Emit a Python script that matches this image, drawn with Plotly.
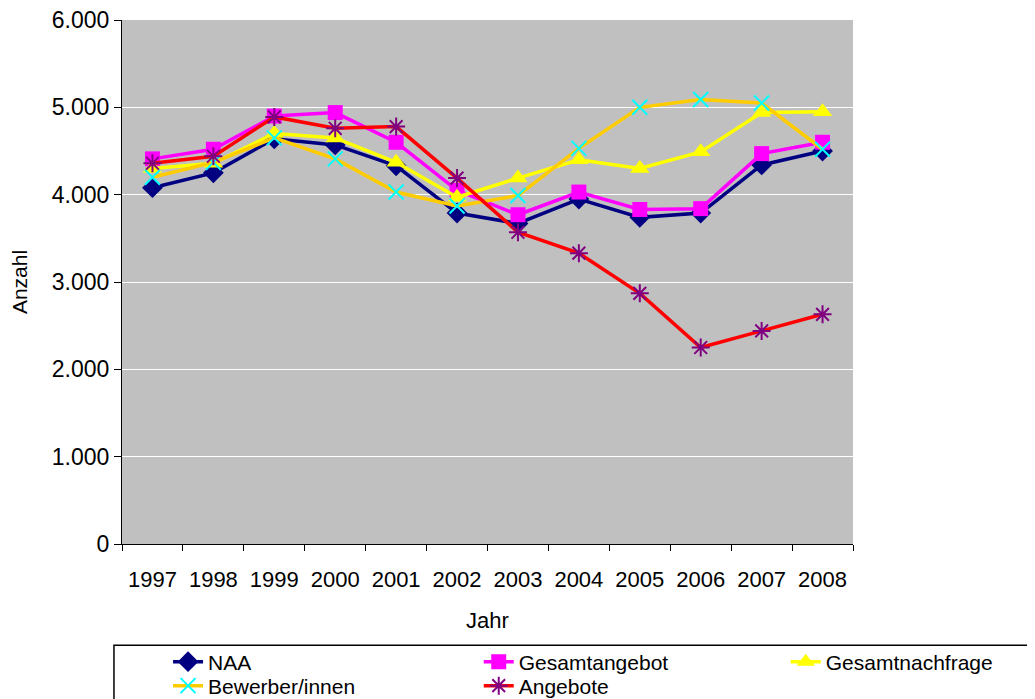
import plotly.graph_objects as go

# Data
years = ["1997", "1998", "1999", "2000", "2001", "2002", "2003", "2004", "2005", "2006", "2007", "2008"]
naa = [4080, 4250, 4640, 4570, 4330, 3790, 3670, 3950, 3740, 3790, 4340, 4500]
gesamtangebot = [4410, 4520, 4900, 4940, 4600, 4050, 3770, 4030, 3830, 3840, 4470, 4600]
gesamtnachfrage = [4300, 4360, 4700, 4650, 4370, 3970, 4190, 4400, 4300, 4490, 4940, 4950]
bewerber = [4200, 4370, 4650, 4410, 4030, 3870, 3990, 4530, 5000, 5090, 5050, 4520]
angebote = [4360, 4440, 4890, 4760, 4780, 4190, 3570, 3330, 2870, 2250, 2440, 2630]

FONT = "Liberation Sans, Arial, sans-serif"

fig = go.Figure()

series = [
    ("NAA", naa, "#000080", dict(symbol="diamond", size=16, color="#000080"), "legend"),
    ("Gesamtangebot", gesamtangebot, "#FF00FF", dict(symbol="square", size=15, color="#FF00FF"), "legend2"),
    ("Gesamtnachfrage", gesamtnachfrage, "#FFFF00", dict(symbol="triangle-up", size=17, color="#FFFF00"), "legend3"),
    ("Bewerber/innen", bewerber, "#FFCC00",
     dict(symbol="x-thin-open", size=15, color="#00FFFF", line=dict(color="#00FFFF", width=2)), "legend4"),
    ("Angebote", angebote, "#FF0000",
     dict(symbol="asterisk-open", size=15, color="#800080", line=dict(color="#800080", width=2)), "legend5"),
]

for name, vals, lc, mk, lg in series:
    fig.add_trace(go.Scatter(
        x=years, y=vals, name=name, mode="lines+markers",
        line=dict(color=lc, width=3.5), marker=mk, legend=lg, showlegend=True,
    ))

# legend positions (one legend per entry, Excel-like grid)
def leg(x, y):
    return dict(x=x, y=y, xanchor="left", yanchor="middle", bgcolor="rgba(0,0,0,0)",
                borderwidth=0, font=dict(family=FONT, size=21, color="black"))

fig.update_layout(
    width=1027, height=691,
    margin=dict(l=114, r=182, t=12, b=155, autoexpand=False),
    paper_bgcolor="white",
    plot_bgcolor="#C0C0C0",
    separators=",.",
    showlegend=True,
    font=dict(family=FONT, size=22, color="black"),
    legend=leg(0.063, -0.2252),
    legend2=leg(0.488, -0.2252),
    legend3=leg(0.908, -0.2252),
    legend4=leg(0.063, -0.2710),
    legend5=leg(0.488, -0.2710),
    xaxis=dict(
        type="category", range=[-0.5, 11.5], tickson="boundaries", ticks="outside", ticklen=6,
        tickcolor="black", showline=True, linecolor="black", linewidth=1,
        showgrid=False, ticklabelstandoff=16,
        title=dict(text="Jahr", standoff=21, font=dict(family=FONT, size=22)),
        tickfont=dict(family=FONT, size=22),
    ),
    yaxis=dict(
        range=[0, 6000], dtick=1000, tickformat=",d", ticks="outside", ticklen=7,
        tickcolor="black", showline=True, linecolor="black", linewidth=1,
        showgrid=True, gridcolor="white", gridwidth=1, zeroline=False,
        ticklabeloverflow="allow",
        title=dict(text="Anzahl", standoff=20, font=dict(family=FONT, size=21)),
        tickfont=dict(family=FONT, size=23),
    ),
    shapes=[dict(type="rect", xref="paper", yref="paper",
                 x0=-0.011, x1=1.4, y0=-0.193, y1=-0.4,
                 line=dict(color="black", width=1.5), fillcolor="rgba(0,0,0,0)")],
)

fig.write_html("out.html")
